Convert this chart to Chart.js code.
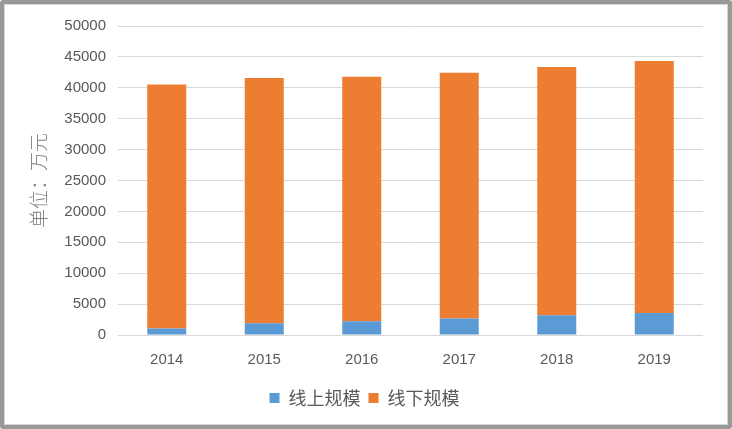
<!DOCTYPE html>
<html>
<head>
<meta charset="utf-8">
<script src="https://cdn.jsdelivr.net/npm/chart.js@4.4.0/dist/chart.umd.min.js"></script>
<style>
  html, body { margin: 0; padding: 0; background: #fff; }
  #wrap { position: relative; width: 732px; height: 429px; }
  #wrap canvas { position: absolute; left: 0; top: 0; }
  #frame {
    position: absolute; left: 0; top: 0; width: 732px; height: 429px;
    box-sizing: border-box; border: 4px solid #999; border-radius: 3px;
    box-shadow: inset 0 0 0 1px #d6d6d6; pointer-events: none;
  }
</style>
</head>
<body>
<div id="wrap">
  <canvas id="myChart" width="732" height="429"></canvas>
  <div id="frame"></div>
</div>
<script>
const years = ["2014", "2015", "2016", "2017", "2018", "2019"];
const online = [1050, 1900, 2220, 2660, 3200, 3570];
const offline = [39500, 39700, 39550, 39770, 40180, 40760];
const seriesNames = ["线上规模", "线下规模"];
const yMax = 50000;
const yStep = 5000;

const tickFont = { family: "'Liberation Sans', Arial, sans-serif", size: 15 };
const tickColor = "#595959";

new Chart(document.getElementById("myChart").getContext("2d"), {
  type: "bar",
  data: {
    labels: years,
    datasets: [
      {
        label: seriesNames[0],
        data: online,
        backgroundColor: "#5B9BD5",
        barPercentage: 0.4,
        categoryPercentage: 1,
      },
      {
        label: seriesNames[1],
        data: offline,
        backgroundColor: "#ED7D31",
        barPercentage: 0.4,
        categoryPercentage: 1,
      },
    ],
  },
  options: {
    responsive: false,
    animation: false,
    layout: { padding: { top: 26, right: 29, bottom: 12, left: 26 } },
    plugins: {
      tooltip: { enabled: false },
      legend: {
        position: "bottom",
        labels: {
          boxWidth: 10,
          boxHeight: 10,
          padding: 8,
          color: tickColor,
          font: { family: "'Noto Sans CJK SC', sans-serif", size: 18 },
        },
      },
    },
    scales: {
      x: {
        stacked: true,
        grid: { display: false },
        border: { display: false },
        ticks: { color: tickColor, font: tickFont, padding: 8 },
        afterFit: (s) => { s.height = 46; },
      },
      y: {
        stacked: true,
        min: 0,
        max: yMax,
        ticks: {
          stepSize: yStep,
          color: tickColor,
          font: tickFont,
          padding: 12,
          callback: (v) => String(v),
        },
        grid: { color: "#d9d9d9", lineWidth: 1, drawTicks: false },
        border: { display: false },
        title: {
          display: true,
          text: "单位：万元",
          color: "#7f7f7f",
          font: { family: "'Noto Sans CJK SC', serif", size: 19, weight: "300" },
          padding: { top: 1, bottom: 0 },
        },
        afterFit: (s) => { s.width = 92; },
      },
    },
  },
});
</script>
</body>
</html>
